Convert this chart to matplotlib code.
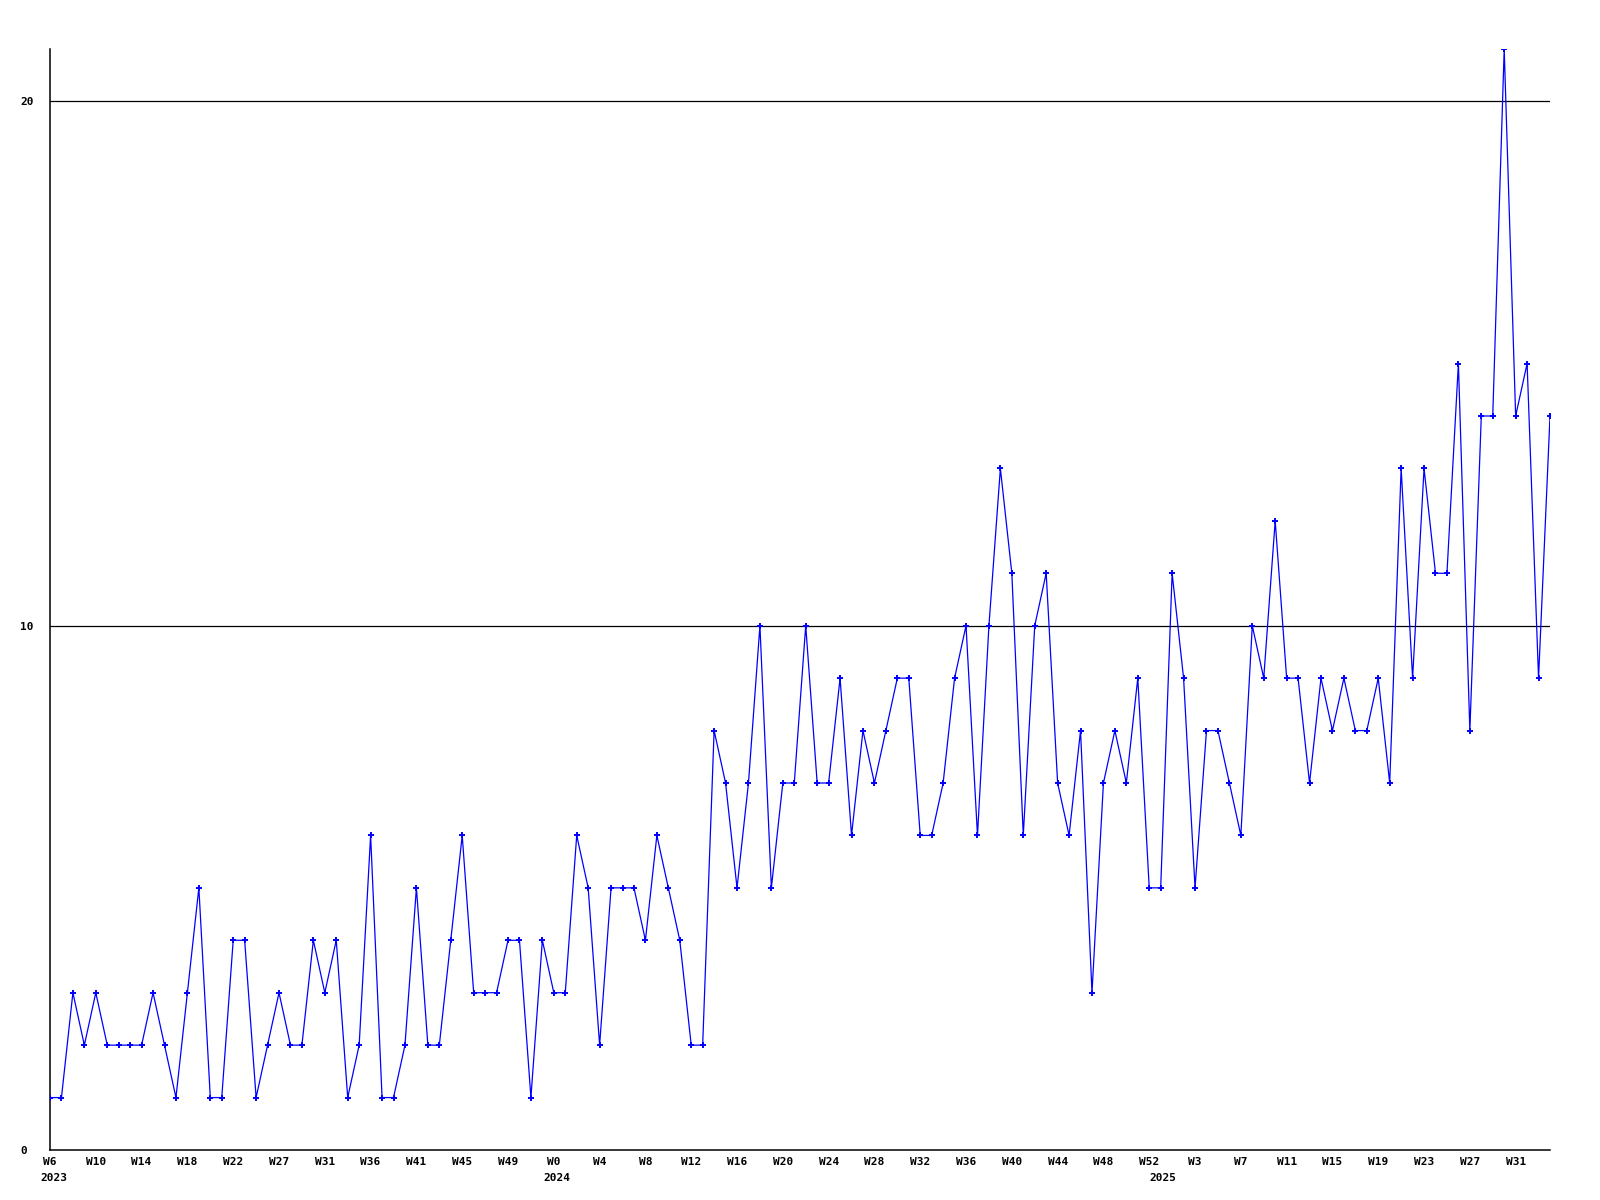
import matplotlib
matplotlib.use("Agg")
import matplotlib.pyplot as plt

# 주간 값 (2023 W6 ~ 2025 W34)
values = [
    1, 1, 3, 2, 3, 2, 2, 2, 2, 3,
    2, 1, 3, 5, 1, 1, 4, 4, 1, 2,
    3, 2, 2, 4, 3, 4, 1, 2, 6, 1,
    1, 2, 5, 2, 2, 4, 6, 3, 3, 3,
    4, 4, 1, 4, 3, 3, 6, 5, 2, 5,
    5, 5, 4, 6, 5, 4, 2, 2, 8, 7,
    5, 7, 10, 5, 7, 7, 10, 7, 7, 9,
    6, 8, 7, 8, 9, 9, 6, 6, 7, 9,
    10, 6, 10, 13, 11, 6, 10, 11, 7, 6,
    8, 3, 7, 8, 7, 9, 5, 5, 11, 9,
    5, 8, 8, 7, 6, 10, 9, 12, 9, 9,
    7, 9, 8, 9, 8, 8, 9, 7, 13, 9,
    13, 11, 11, 15, 8, 14, 14, 21, 14, 15,
    9, 14,
]
x = list(range(1, len(values) + 1))

# x축 라벨 (4주 간격)
week_labels = [
    "W6", "W10", "W14", "W18", "W22", "W27", "W31", "W36", "W41", "W45",
    "W49", "W0", "W4", "W8", "W12", "W16", "W20", "W24", "W28", "W32",
    "W36", "W40", "W44", "W48", "W52", "W3", "W7", "W11", "W15", "W19",
    "W23", "W27", "W31",
]
week_pos = list(range(1, 1 + 4 * len(week_labels), 4))

years = ["2023", "2024", "2025"]
year_pos = [1.3, 45.3, 98.2]

font = dict(family="DejaVu Sans Mono", weight="bold", size=8)

fig = plt.figure(figsize=(16, 12), dpi=100)
ax = fig.add_axes([50 / 1600, 50 / 1200, 1500 / 1600, 1101 / 1200])

# 기준선 10, 20
for yv in [10, 20]:
    ax.axhline(yv, color="black", lw=0.9, zorder=1)

ax.plot(x, values, color="#0000FF", lw=0.9, marker="+", ms=4.5, mew=1.4, zorder=3)

ax.set_xlim(1, 132)
ax.set_ylim(0, 21)

for s in ["top", "right"]:
    ax.spines[s].set_visible(False)
for s in ["left", "bottom"]:
    ax.spines[s].set_color("black")
    ax.spines[s].set_linewidth(1.1)

ax.set_yticks([0, 10, 20])
ax.set_yticklabels(["0", "10", "20"], fontdict=font, ha="left")
ax.set_xticks(week_pos)
ax.set_xticklabels(week_labels, fontdict=font)
ax.tick_params(axis="both", length=0)
ax.tick_params(axis="y", pad=21.5)
ax.tick_params(axis="x", pad=5)

for yr, xp in zip(years, year_pos):
    ax.annotate(yr, xy=(xp, 0), xycoords=("data", "axes fraction"),
                xytext=(0, -20), textcoords="offset points",
                ha="center", va="center", **font)

fig.savefig("out.png", dpi=100, facecolor="white")
